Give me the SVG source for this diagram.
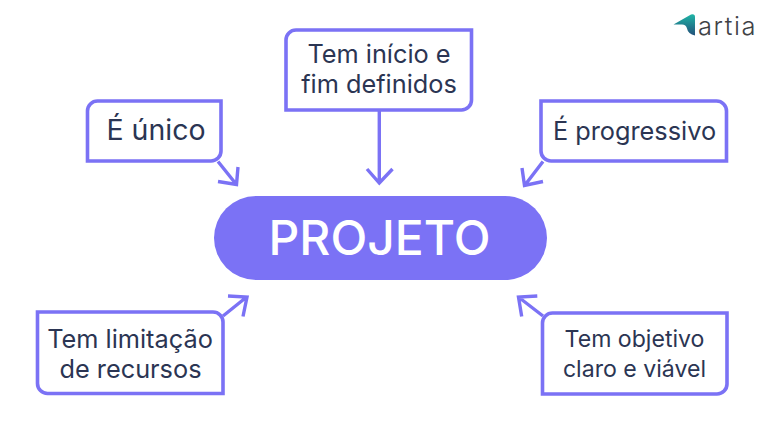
<svg xmlns="http://www.w3.org/2000/svg" width="768" height="431" viewBox="0 0 768 431">
<style>
.box{fill:#fff;stroke:#7b72f5;stroke-width:3.6}
.lnk{fill:none;stroke:#7b72f5;stroke-width:3.4}
.t{font-family:Inter,"Liberation Sans",sans-serif;font-size:25.300px;fill:#2b3553;text-anchor:middle}
.s{font-size:23.100px}
.b{font-size:28.500px}
</style>
<defs><linearGradient id="lg" x1="0" y1="0" x2="0" y2="1"><stop offset="0" stop-color="#1fb5a6"/><stop offset="1" stop-color="#23507a"/></linearGradient></defs>
<rect width="768" height="431" fill="#fff"/>
<g id="connectors">
<path class="lnk" d="M218 161.500L236 184M238 167L236.500 184.500L218 181.500"/>
<path class="lnk" d="M379.300 111V183M367 169L379.300 183L392.500 169"/>
<path class="lnk" d="M543 161.500L525 185M522 168L524.500 185.500L543 181.500"/>
<path class="lnk" d="M223 316L246 297.500M228 296L247 297L243 316.500"/>
<path class="lnk" d="M543 316L519 297.500M537.300 296L518.500 297L521.700 316.500"/>
</g>
<g id="node-unico">
<path class="box" d="M97.500 101H221V151A10 10 0 0 1 211 161H87.500V111A10 10 0 0 1 97.500 101Z"/>
<text class="t b" x="156" y="140">É único</text>
</g>
<g id="node-inicio">
<path class="box" d="M296 30H471.500V100A10 10 0 0 1 461.500 110H286V40A10 10 0 0 1 296 30Z"/>
<text class="t" x="379" y="63">Tem início e</text>
<text class="t" x="379" y="93">fim definidos</text>
</g>
<g id="node-progressivo">
<path class="box" d="M541 101H716.500A10 10 0 0 1 726.500 111V161H551A10 10 0 0 1 541 151Z"/>
<text class="t" x="634.500" y="139.500">É progressivo</text>
</g>
<g id="node-projeto">
<rect x="214" y="196" width="333" height="84" rx="42" fill="#7b72f5"/>
<text x="379.500" y="255" font-family="Inter,'Liberation Sans',sans-serif" font-size="48" font-weight="500" fill="#fff" text-anchor="middle">PROJETO</text>
</g>
<g id="node-limitacao">
<path class="box" d="M37.500 312H213A10 10 0 0 1 223 322V393.500H47.500A10 10 0 0 1 37.500 383.500Z"/>
<text class="t" x="130" y="347.500">Tem limitação</text>
<text class="t" x="130.500" y="377.500">de recursos</text>
</g>
<g id="node-objetivo">
<path class="box" d="M552.500 313H727V384A10 10 0 0 1 717 394H542.500V323A10 10 0 0 1 552.500 313Z"/>
<text class="t s" x="634.500" y="346.500">Tem objetivo</text>
<text class="t s" x="634.500" y="376.500">claro e viável</text>
</g>
<g id="logo">
<path fill="url(#lg)" d="M673.500 24.500L691 14.500Q695 13.500 695 17V35.500Q688 34 687 28.500Q686 24.500 682 24.500Z"/>
<text x="698" y="35" font-family="Inter,'Liberation Sans',sans-serif" font-size="25.500" font-weight="300" letter-spacing="1.600" fill="#3f4246">artia</text>
</g>
</svg>
